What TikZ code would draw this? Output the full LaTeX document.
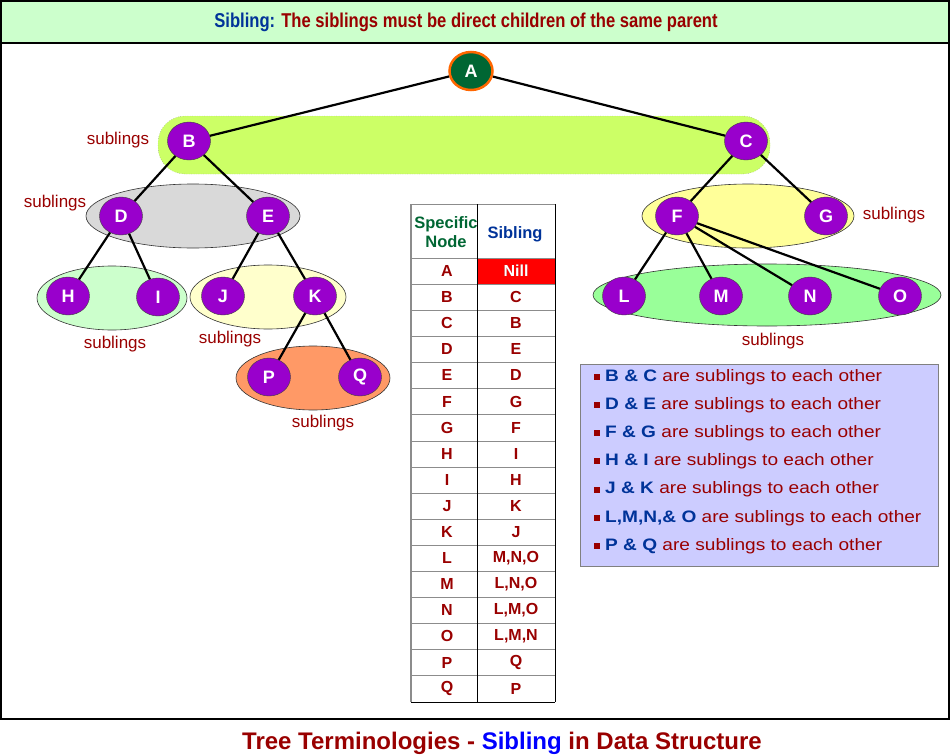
\documentclass[tikz,border=0pt]{standalone}
\usepackage{fontspec}
\setmainfont{Liberation Sans}
\newfontfamily\narrowfont[FakeStretch=0.83]{Liberation Sans}
\newfontfamily\wideFont[FakeStretch=1.15]{Liberation Sans}
\usetikzlibrary{shapes.geometric}
\definecolor{hdrgreen}{HTML}{CCFFCC}
\definecolor{vpurple}{HTML}{9900CC}
\definecolor{rootgreen}{HTML}{006633}
\definecolor{rootorange}{HTML}{FF6600}
\definecolor{darkred}{HTML}{990000}
\definecolor{sibblue}{HTML}{003399}
\definecolor{bandgreen}{HTML}{CCFF66}
\definecolor{boxblue}{HTML}{CCCCFF}
\definecolor{pqorange}{HTML}{FF9966}
\definecolor{logreen}{HTML}{99FF99}
\definecolor{fgyellow}{HTML}{FFFF99}
\definecolor{jkyellow}{HTML}{FFFFCC}
\tikzset{
  vert/.style={ellipse, draw=black!75, fill=vpurple, minimum width=43, minimum height=38,
    inner sep=0pt, text=white, font=\bfseries\fontsize{18}{18}\selectfont},
  root/.style={vert, fill=rootgreen, draw=rootorange, line width=2.5},
  link/.style={draw=black, line width=2.2},
  group/.style={draw=black!80, line width=0.6},
  sub/.style={text=darkred, font=\fontsize{17}{17}\selectfont},
  cell/.style={text=darkred, font=\bfseries\fontsize{16}{16}\selectfont}
}
\begin{document}
\begin{tikzpicture}[x=1pt,y=-1pt]
				%%%%% START %%%%%
				\useasboundingbox (0,0) rectangle (951,755);
				\def\rowh{26.1}
				\def\rowtop{258}
				\def\colA{411}
				\def\colB{477}
				\def\colC{555}
				\def\lineh{28.15}

				% frame and titles
				\draw[fill=hdrgreen, line width=1.2] (1,1) rectangle (949,43);
				\draw[line width=1.2] (1,43) rectangle (949,719);
				\node (hdr) at (466,22) {\narrowfont\bfseries\fontsize{20}{20}\selectfont
					\textcolor{sibblue}{Sibling:} \textcolor{darkred}{The siblings must be direct children of the same parent}};
				\node (ttl) at (502,743) {\bfseries\fontsize{24}{24}\selectfont
					\textcolor{darkred}{Tree Terminologies -} \textcolor{blue}{Sibling} \textcolor{darkred}{in Data Structure}};

				% sibling groups
				\draw[fill=bandgreen, draw=black!50, dotted, rounded corners=27] (158,116) rectangle (770,174);
				\draw[group, fill=black!15] (193,216) ellipse [x radius=107, y radius=32];
				\draw[group, fill=hdrgreen] (112,298) ellipse [x radius=75, y radius=32];
				\draw[group, fill=jkyellow] (268,297) ellipse [x radius=78, y radius=32];
				\draw[group, fill=pqorange] (313,378) ellipse [x radius=77, y radius=32];
				\draw[group, fill=fgyellow] (748,216) ellipse [x radius=106, y radius=32];
				\draw[group, fill=logreen] (767,295) ellipse [x radius=174, y radius=31];

				% tree
				\node[root] (A) at (471,71) {A};
				\node[vert] (B) at (189,141) {B};
				\node[vert] (C) at (746,141) {C};
				\node[vert] (D) at (121,216) {D};
				\node[vert] (E) at (268,216) {E};
				\node[vert] (F) at (677,216) {F};
				\node[vert] (G) at (826,216) {G};
				\node[vert] (H) at (68,296) {H};
				\node[vert] (I) at (158,297) {I};
				\node[vert] (J) at (223,296) {J};
				\node[vert] (K) at (315,296) {K};
				\node[vert] (L) at (624,296) {L};
				\node[vert] (M) at (721,296) {M};
				\node[vert] (N) at (810,296) {N};
				\node[vert] (O) at (900,296) {O};
				\node[vert] (P) at (269,377) {P};
				\node[vert] (Q) at (360,377) {Q};
				\foreach \p/\c in {A/B,A/C,B/D,B/E,C/F,C/G,D/H,D/I,E/J,E/K,F/L,F/M,F/N,F/O,K/P,K/Q}
					\draw[link] (\p) -- (\c);

				\node[sub] (s1) at (118,140) {sublings};
				\node[sub] (s2) at (55,203) {sublings};
				\node[sub] (s3) at (115,344) {sublings};
				\node[sub] (s4) at (230,339) {sublings};
				\node[sub] (s5) at (323,423) {sublings};
				\node[sub] (s6) at (894,215) {sublings};
				\node[sub] (s7) at (773,341) {sublings};

				% table
				\fill[red] (\colB,\rowtop) rectangle (\colC,\rowtop+\rowh);
				\node[text=rootgreen, font=\bfseries\fontsize{16.5}{19}\selectfont, align=center] (th1) at (446,232) {Specific\\Node};
				\node[text=sibblue, font=\bfseries\fontsize{16.5}{16.5}\selectfont] (th2) at (515,234) {Sibling};
				\foreach \n/\s [count=\i] in {A/Nill,B/C,C/B,D/E,E/D,F/G,G/F,H/I,I/H,J/K,K/J,L/{M,N,O},M/{L,N,O},N/{L,M,O},O/{L,M,N},P/Q,Q/P}{
					\node[cell] (sp\i) at (447,\rowtop+\i*\rowh-0.5*\rowh) {\n};
					\node[cell] (sb\i) at (516,\rowtop+\i*\rowh-0.5*\rowh) {\s};
					\draw[black!45] (\colA,\rowtop+\i*\rowh-\rowh) -- (\colC,\rowtop+\i*\rowh-\rowh);
				}
				\node[cell, text=white] at (sb1) {Nill};
				\draw[black!45] (\colA,204) -- (\colC,204);
				\draw (\colA,\rowtop+17*\rowh) -- (\colC,\rowtop+17*\rowh);
				\draw (\colB,204) -- (\colB,\rowtop+17*\rowh);
				\draw (\colC,204) -- (\colC,\rowtop+17*\rowh);
				\draw[black!45, line width=1.5] (\colA,204) -- (\colA,\rowtop+17*\rowh);

				% notes
				\draw[fill=boxblue, draw=black!50, line width=1] (580,364) rectangle (938,566);
				\foreach \a [count=\i] in {B \& C,D \& E,F \& G,H \& I,J \& K,{L,M,N,\& O},P \& Q}{
					\fill[darkred] (594,377+\i*\lineh-\lineh-3) rectangle +(6,6);
					\node[anchor=west, inner sep=0pt, font=\wideFont\fontsize{16.6}{16.6}\selectfont] (nt\i) at (605,377+\i*\lineh-\lineh)
						{\textcolor{sibblue}{\bfseries\a} \textcolor{darkred}{are sublings to each other}};
				}
				%%%%% END %%%%%
\end{tikzpicture}
\end{document}
